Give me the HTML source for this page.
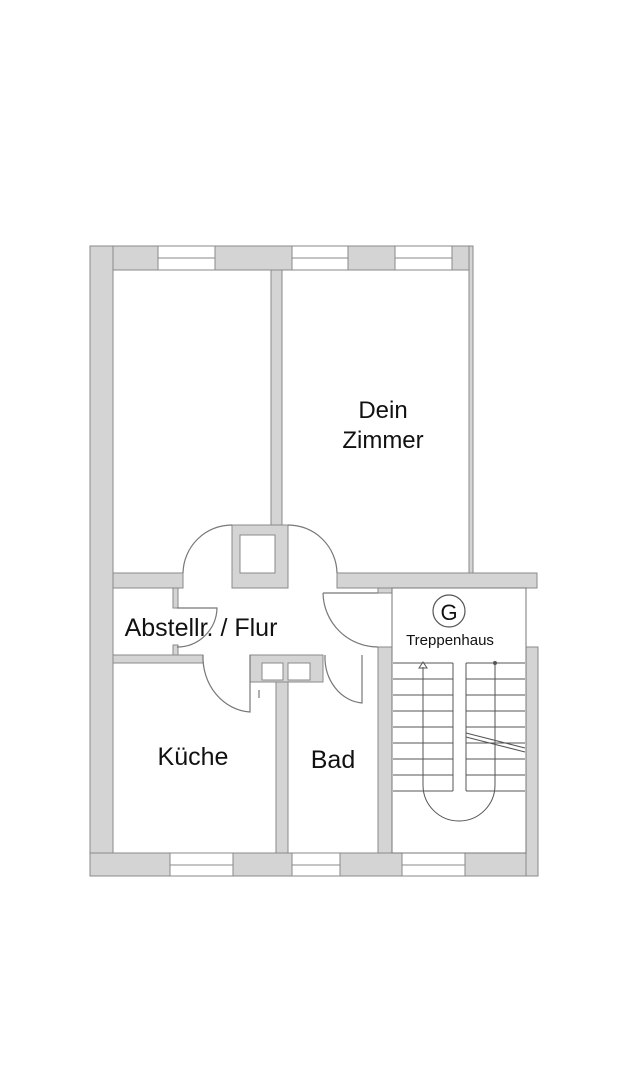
<!DOCTYPE html>
<html><head><meta charset="utf-8"><style>
html,body{margin:0;padding:0;background:#fff;}
svg{display:block;}
text{font-family:"Liberation Sans",sans-serif;fill:#111;}
</style></head><body>
<svg width="644" height="1080" viewBox="0 0 644 1080" xmlns="http://www.w3.org/2000/svg">
<g fill="#d4d4d4" stroke="#8a8a8a" stroke-width="1">
<rect x="90" y="246" width="383" height="24"/>
<rect x="90" y="246" width="23" height="630"/>
<rect x="90" y="853" width="448" height="23"/>
<rect x="469" y="246" width="4" height="327"/>
<rect x="271" y="270" width="11" height="303"/>
<rect x="113" y="573" width="70" height="15"/>
<rect x="232" y="525" width="56" height="63"/>
<rect x="337" y="573" width="200" height="15"/>
<rect x="526" y="647" width="12" height="229"/>
<rect x="113" y="655" width="90" height="8"/>
<rect x="173" y="588" width="5" height="20"/>
<rect x="173" y="645" width="5" height="10"/>
<rect x="250" y="655" width="73" height="27"/>
<rect x="276" y="682" width="12" height="171"/>
<rect x="378" y="588" width="14" height="5"/>
<rect x="378" y="647" width="14" height="206"/>
</g>
<g fill="#fff" stroke="#8a8a8a">
<rect x="240" y="535" width="35" height="38"/>
<rect x="262" y="663" width="21" height="17"/>
<rect x="288" y="663" width="22" height="17"/>
</g>
<g fill="#fff" stroke="#8a8a8a">
<rect x="158" y="246" width="57" height="24"/>
<rect x="292" y="246" width="56" height="24"/>
<rect x="395" y="246" width="57" height="24"/>
<rect x="170" y="853" width="63" height="23"/>
<rect x="292" y="853" width="48" height="23"/>
<rect x="402" y="853" width="63" height="23"/>
</g>
<g stroke="#8a8a8a" stroke-width="1">
<line x1="158" y1="258" x2="215" y2="258"/>
<line x1="292" y1="258" x2="348" y2="258"/>
<line x1="395" y1="258" x2="452" y2="258"/>
<line x1="170" y1="865" x2="233" y2="865"/>
<line x1="292" y1="865" x2="340" y2="865"/>
<line x1="402" y1="865" x2="465" y2="865"/>
</g>
<rect x="392" y="588" width="134" height="265" fill="#fff" stroke="#777"/>
<g fill="none" stroke="#777" stroke-width="1.2">
<path d="M232 525 A49 49 0 0 0 183 573"/>
<path d="M288 525 A49 49 0 0 1 337 573"/>
<path d="M323 593 L378 593 M323 593 A55 55 0 0 0 378 647"/>
<path d="M177 608 L217 608 A40 40 0 0 1 177 647"/>
<path d="M250 655 L250 712 A50 55 0 0 1 203 655"/>
<path d="M362 655 L362 703 A40 46 0 0 1 325 655"/>
<line x1="259" y1="690" x2="259" y2="698"/>
</g>
<g stroke="#555" stroke-width="1" fill="none">
<line x1="393" y1="663" x2="453" y2="663"/><line x1="466" y1="663" x2="525" y2="663"/>
<line x1="393" y1="679" x2="453" y2="679"/><line x1="466" y1="679" x2="525" y2="679"/>
<line x1="393" y1="695" x2="453" y2="695"/><line x1="466" y1="695" x2="525" y2="695"/>
<line x1="393" y1="711" x2="453" y2="711"/><line x1="466" y1="711" x2="525" y2="711"/>
<line x1="393" y1="727" x2="453" y2="727"/><line x1="466" y1="727" x2="525" y2="727"/>
<line x1="393" y1="743" x2="453" y2="743"/><line x1="466" y1="743" x2="525" y2="743"/>
<line x1="393" y1="759" x2="453" y2="759"/><line x1="466" y1="759" x2="525" y2="759"/>
<line x1="393" y1="775" x2="453" y2="775"/><line x1="466" y1="775" x2="525" y2="775"/>
<line x1="393" y1="791" x2="453" y2="791"/><line x1="466" y1="791" x2="525" y2="791"/>
<line x1="453" y1="663" x2="453" y2="791"/>
<line x1="466" y1="663" x2="466" y2="791"/>
<path d="M423 667 L423 785 A36 36 0 0 0 495 785 L495 663"/>
<path d="M419 668 L423 662 L427 668 Z"/>
<circle cx="495" cy="663" r="1.5" fill="#555"/>
<line x1="466" y1="733" x2="525" y2="748"/>
<line x1="466" y1="737" x2="525" y2="752"/>
</g>
<circle cx="449" cy="611" r="16" fill="none" stroke="#555" stroke-width="1.2"/>
<text x="449" y="620" font-size="22" text-anchor="middle">G</text>
<text x="450" y="645" font-size="15" text-anchor="middle">Treppenhaus</text>
<text x="383" y="418" font-size="24" text-anchor="middle">Dein</text>
<text x="383" y="448" font-size="24" text-anchor="middle">Zimmer</text>
<text x="201" y="636" font-size="25" text-anchor="middle">Abstellr. / Flur</text>
<text x="193" y="765" font-size="25" text-anchor="middle">Küche</text>
<text x="333" y="768" font-size="25" text-anchor="middle">Bad</text>
</svg>
</body></html>
